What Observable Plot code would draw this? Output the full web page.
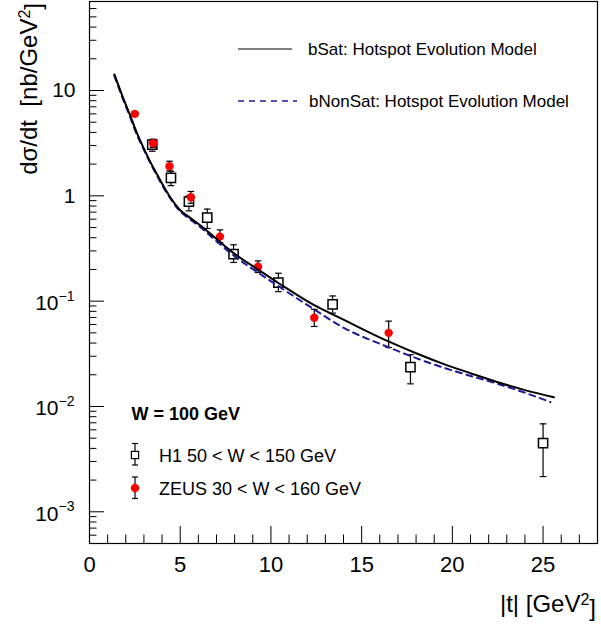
<!DOCTYPE html>
<html><head><meta charset="utf-8">
<script src="https://cdn.jsdelivr.net/npm/d3@7"></script>
<script src="https://cdn.jsdelivr.net/npm/@observablehq/plot@0.6"></script>
<style>body{margin:0;background:#fff} svg{display:block}</style>
</head><body><div id="chart"></div>
<script>
// ---- data ----
const h1T  = [3.46, 4.49, 5.48, 6.49, 7.94, 10.41, 13.4, 17.69, 25.0];
const h1Y  = [3.07, 1.48, 0.88, 0.62, 0.28, 0.150, 0.093, 0.0236, 0.00449];
const h1Hi = [3.40, 1.71, 1.00, 0.748, 0.343, 0.184, 0.112, 0.031, 0.00684];
const h1Lo = [2.65, 1.25, 0.72, 0.49, 0.233, 0.123, 0.077, 0.0164, 0.00216];

const zeusT  = [2.50, 3.50, 4.41, 5.59, 7.19, 9.29, 12.39, 16.49];
const zeusY  = [6.0, 3.16, 1.91, 0.97, 0.41, 0.212, 0.0695, 0.050];
const zeusHi = [6.3, 3.45, 2.13, 1.10, 0.475, 0.241, 0.0836, 0.0646];
const zeusLo = [5.7, 2.88, 1.72, 0.85, 0.36, 0.187, 0.0575, 0.0363];

const bSatT = [1.37, 1.8, 2.24, 2.6, 2.98, 3.35, 3.72, 4.1, 4.45, 4.75, 5.0, 5.4, 6.1, 6.84, 7.94, 9.32, 10.43, 12.36, 13.83, 16.51, 18.0, 19.5, 21.0, 22.5, 24.0, 25.6];
const bSatY = [14.2, 9.0, 5.8, 4.0, 2.85, 2.1, 1.6, 1.22, 0.97, 0.82, 0.73, 0.645, 0.525, 0.411, 0.286, 0.198, 0.148, 0.092, 0.069, 0.0412, 0.0320, 0.0254, 0.0207, 0.0170, 0.0143, 0.01225];

const bNonSatT = [1.37, 1.8, 2.24, 2.6, 2.98, 3.35, 3.72, 4.1, 4.45, 4.75, 5.0, 5.4, 6.1, 6.84, 7.94, 9.32, 10.43, 12.36, 13.83, 16.51, 18.0, 19.5, 21.0, 22.5, 24.0, 25.41];
const bNonSatY = [13.8, 8.7, 5.6, 3.85, 2.78, 2.05, 1.56, 1.18, 0.95, 0.80, 0.71, 0.625, 0.505, 0.392, 0.272, 0.185, 0.138, 0.084, 0.0582, 0.0363, 0.0288, 0.0234, 0.0195, 0.0164, 0.0135, 0.011];

const xMajor = [0, 5, 10, 15, 20, 25];
const xMinor = d3.range(0, 28.01, 1).filter(v => v % 5 !== 0);
const yPlain = [10, 1];
const yPlainLabels = ["10", "1"];
const yExp = [0.1, 0.01, 0.001];
const yExpLabels = ["\u22121", "\u22122", "\u22123"];
const yMajor = [0.001, 0.01, 0.1, 1, 10];
const yMinor = [];
for (let k = -4; k <= 1; k++) for (let m = 2; m <= 9; m++) { const v = m * Math.pow(10, k); if (v >= 5e-4 && v <= 70) yMinor.push(v); }

const legendTitle = "W = 100 GeV";
const h1Label = "H1 50 < W < 150 GeV";
const zeusLabel = "ZEUS 30 < W < 160 GeV";
const bSatLabel = "bSat: Hotspot Evolution Model";
const bNonSatLabel = "bNonSat: Hotspot Evolution Model";

// ---- tables ----
const h1 = h1T.map((t, i) => ({t, y: h1Y[i], hi: h1Hi[i], lo: h1Lo[i]}));
const zeus = zeusT.map((t, i) => ({t, y: zeusY[i], hi: zeusHi[i], lo: zeusLo[i]}));
const bSat = bSatT.map((t, i) => ({t, y: bSatY[i]}));
const bNonSat = bNonSatT.map((t, i) => ({t, y: bNonSatY[i]}));

const W = 601, H = 625, ML = 89, MR = 4, MT = 1, MB = 82;
const FW = W - ML - MR, FH = H - MT - MB;
const NAVY = "#1c1c96";
const FONT = "Liberation Sans, Arial, Helvetica, sans-serif";

const capSymbol = {draw(ctx, size) { const r = Math.sqrt(size / Math.PI); ctx.moveTo(-r, 0); ctx.lineTo(r, 0); }};

const errMarks = (data) => [
  Plot.ruleX(data, {x: "t", y1: "lo", y2: "hi", stroke: "black", strokeWidth: 1.2}),
  Plot.dot(data, {x: "t", y: "hi", symbol: capSymbol, r: 3.3, fill: "none", stroke: "black", strokeWidth: 1.2}),
  Plot.dot(data, {x: "t", y: "lo", symbol: capSymbol, r: 3.3, fill: "none", stroke: "black", strokeWidth: 1.2})
];

const chart = Plot.plot({
  width: W, height: H,
  marginLeft: ML, marginRight: MR, marginTop: MT, marginBottom: MB,
  x: {domain: [0, 28], axis: null},
  y: {type: "log", domain: [5e-4, 70], axis: null},
  style: {fontFamily: FONT, background: "white", overflow: "visible"},
  marks: [
    // ticks (inside frame)
    Plot.ruleX(xMajor, {x: d => d, insetTop: FH - 17, stroke: "black"}),
    Plot.ruleX(xMinor, {x: d => d, insetTop: FH - 8.5, stroke: "black"}),
    Plot.ruleY(yMajor, {y: d => d, insetRight: FW - 15, stroke: "black"}),
    Plot.ruleY(yMinor, {y: d => d, insetRight: FW - 7.5, stroke: "black"}),
    // tick labels
    Plot.text(xMajor, {x: d => d, frameAnchor: "bottom", dy: 28, text: d => String(d), fontSize: 22, fill: "black"}),
    Plot.text(yPlain, {y: d => d, frameAnchor: "left", dx: -14, textAnchor: "end", text: (d, i) => yPlainLabels[i], fontSize: 21, fill: "black"}),
    Plot.text(yExp, {y: d => d, frameAnchor: "left", dx: -31, dy: 2, textAnchor: "end", text: () => "10", fontSize: 21, fill: "black"}),
    Plot.text(yExp, {y: d => d, frameAnchor: "left", dx: -31, dy: -5, textAnchor: "start", text: (d, i) => yExpLabels[i], fontSize: 14, fill: "black"}),
    // data
    ...errMarks(h1),
    Plot.dot(h1, {x: "t", y: "y", symbol: "square", r: 5.2, fill: "white", stroke: "black", strokeWidth: 1.5}),
    ...errMarks(zeus),
    Plot.dot(zeus, {x: "t", y: "y", r: 4.2, fill: "#ff0000", stroke: "none"}),
    // model curves
    Plot.line(bNonSat, {x: "t", y: "y", stroke: NAVY, strokeWidth: 2, strokeDasharray: "6,5", curve: "monotone-x"}),
    Plot.line(bSat, {x: "t", y: "y", stroke: "black", strokeWidth: 2, curve: "monotone-x"}),
    Plot.frame({stroke: "black", strokeWidth: 1.2})
  ]
});

document.getElementById("chart").appendChild(chart);
const svg = d3.select(chart);
const g = svg.append("g").attr("font-family", FONT).attr("fill", "black").attr("text-anchor", "start");

// y-axis title
const yt = g.append("text")
  .attr("transform", "translate(37,3) rotate(-90)")
  .attr("text-anchor", "end").attr("font-size", 24).style("white-space", "pre");
yt.append("tspan").text("d\u03c3/dt  [nb/GeV");
yt.append("tspan").attr("dy", "-0.45em").attr("font-size", 16).text("2");
yt.append("tspan").attr("dy", "0.45em").text("]");

// x-axis title
const xt = g.append("text").attr("x", 596).attr("y", 612)
  .attr("text-anchor", "end").attr("font-size", 24).style("white-space", "pre");
xt.append("tspan").text("|t| [GeV");
xt.append("tspan").attr("dy", "-0.45em").attr("font-size", 16).text("2");
xt.append("tspan").attr("dy", "0.45em").text("]");

// top legend
g.append("line").attr("x1", 238).attr("x2", 292).attr("y1", 49).attr("y2", 49).attr("stroke", "black").attr("stroke-width", 1);
g.append("text").attr("x", 308).attr("y", 55).attr("font-size", 17).attr("text-anchor", "start").text(bSatLabel);
g.append("line").attr("x1", 238).attr("x2", 297).attr("y1", 101).attr("y2", 101).attr("stroke", NAVY).attr("stroke-width", 1.5).attr("stroke-dasharray", "6,5");
g.append("text").attr("x", 309).attr("y", 107).attr("font-size", 17).attr("text-anchor", "start").text(bNonSatLabel);

// bottom legend
g.append("text").attr("x", 131.5).attr("y", 420).attr("font-size", 18).attr("font-weight", "bold").attr("text-anchor", "start").text(legendTitle);
function legBar(cx, y1, y2) {
  g.append("line").attr("x1", cx).attr("x2", cx).attr("y1", y1).attr("y2", y2).attr("stroke", "black").attr("stroke-width", 1.2);
  [y1, y2].forEach(y => g.append("line").attr("x1", cx - 3).attr("x2", cx + 3).attr("y1", y).attr("y2", y).attr("stroke", "black").attr("stroke-width", 1.2));
}
legBar(135, 443.5, 465);
g.append("rect").attr("x", 135 - 3.6).attr("y", 455 - 3.6).attr("width", 7.2).attr("height", 7.2).attr("fill", "white").attr("stroke", "black").attr("stroke-width", 1.2);
g.append("text").attr("x", 159).attr("y", 461.5).attr("font-size", 18).attr("text-anchor", "start").text(h1Label);
legBar(135, 477, 498.5);
g.append("circle").attr("cx", 135).attr("cy", 488).attr("r", 4.2).attr("fill", "#ff0000");
g.append("text").attr("x", 159).attr("y", 495).attr("font-size", 18).attr("text-anchor", "start").text(zeusLabel);
</script>
</body></html>
